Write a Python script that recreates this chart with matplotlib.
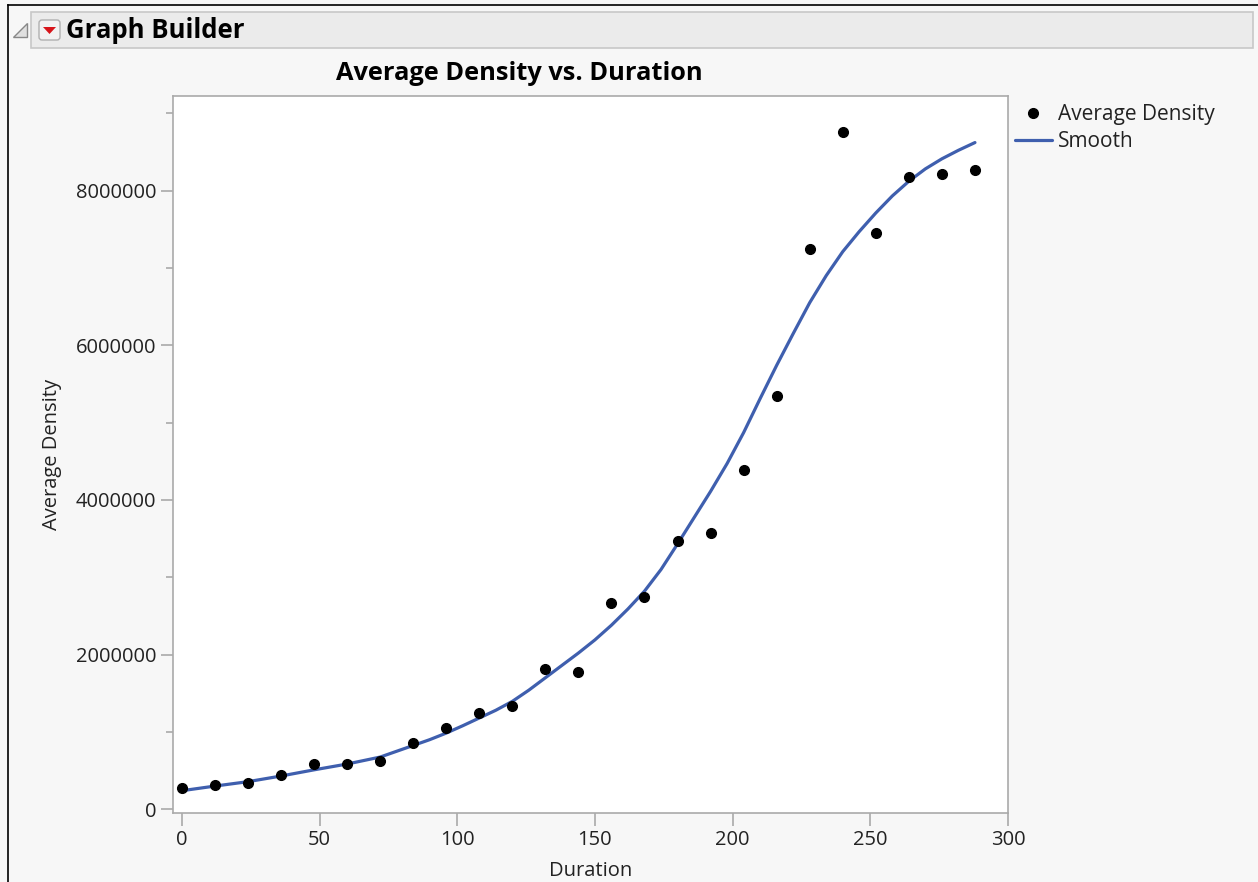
import matplotlib
matplotlib.use("Agg")

import matplotlib.pyplot as plt
from matplotlib.patches import Polygon, FancyBboxPatch, Rectangle

plt.rcParams["font.family"] = ["Open Sans", "DejaVu Sans"]

# observed means, one every 12 units of duration
duration = [0, 12, 24, 36, 48, 60, 72, 84, 96, 108, 120, 132, 144,
            156, 168, 180, 192, 204, 216, 228, 240, 252, 264, 276, 288]
avg_density = [270000, 310000, 335000, 440000, 590000, 590000, 630000,
               860000, 1045000, 1240000, 1340000, 1820000, 1780000,
               2670000, 2750000, 3470000, 3570000, 4390000, 5340000,
               7240000, 8760000, 7450000, 8170000, 8210000, 8270000]

# smoother
smooth_x = [0, 12, 24, 36, 48, 60, 72, 78, 84, 90, 96, 102, 108, 114, 120,
            126, 132, 138, 144, 150, 156, 162, 168, 174, 180, 186, 192, 198,
            204, 210, 216, 222, 228, 234, 240, 246, 252, 258, 264, 270, 276,
            282, 288]
smooth_y = [240000, 300000, 357000, 430000, 510000, 585000, 675000, 750000,
            825000, 900000, 985000, 1080000, 1180000, 1280000, 1395000,
            1540000, 1700000, 1860000, 2020000, 2190000, 2380000, 2590000,
            2820000, 3100000, 3430000, 3770000, 4110000, 4470000, 4870000,
            5310000, 5740000, 6150000, 6550000, 6900000, 7210000, 7470000,
            7710000, 7930000, 8120000, 8280000, 8410000, 8520000, 8620000]

W, H = 1258, 882
BG = "#f7f7f7"
GREY = "#aaaaaa"
TXT = "#222222"
BLUE = "#3f5fae"

fig = plt.figure(figsize=(W / 100, H / 100), dpi=100, facecolor=BG)

# window chrome drawn in pixel coordinates
chrome = fig.add_axes([0, 0, 1, 1], zorder=0)
chrome.set_xlim(0, W); chrome.set_ylim(H, 0); chrome.axis("off")
chrome.plot([8, W], [5, 5], color="black", lw=1.2)
chrome.plot([8, 8], [5, H], color="black", lw=1.2)
chrome.add_patch(Rectangle((31, 12), W - 36, 36, facecolor="#ebebeb",
                           edgecolor="#c8c8c8", lw=1.2))
chrome.add_patch(Polygon([[27, 23], [27, 37], [13, 37]], closed=True,
                         facecolor="#e0e0e0", edgecolor="#888888", lw=1))
chrome.add_patch(FancyBboxPatch((39, 20), 21, 20, boxstyle="round,pad=0,rounding_size=3",
                                facecolor="#f2f2f2", edgecolor="#b0b0b0", lw=1))
chrome.add_patch(Polygon([[43, 27], [56, 27], [49.5, 34]], closed=True,
                         facecolor="#d7141a", edgecolor="none"))
chrome.text(66, 30, "Graph Builder", fontsize=18.5, fontweight="bold",
            color="black", va="center", ha="left")

ax = fig.add_axes([173 / W, 1 - 813 / H, (1008 - 173) / W, (813 - 96) / H], zorder=1)
ax.set_facecolor("white")

ax.plot(smooth_x, smooth_y, color=BLUE, lw=2.3, label="Smooth", zorder=2,
        solid_capstyle="round", solid_joinstyle="round")
ax.plot(duration, avg_density, "o", color="black", ms=7, label="Average Density", zorder=3)

ax.set_xlim(-3.2, 300)
ax.set_ylim(-48000, 9222000)
ax.set_xticks(range(0, 301, 50))
ax.set_yticks(range(0, 8000001, 2000000))
ax.set_yticks(range(1000000, 9000001, 2000000), minor=True)
ax.set_yticklabels([f"{v:d}" for v in range(0, 8000001, 2000000)])

for s in ax.spines.values():
    s.set_color(GREY)
    s.set_linewidth(1.2)
ax.tick_params(axis="both", which="major", length=9, width=1.2, color=GREY,
               labelsize=14.5, labelcolor=TXT, pad=3)
ax.tick_params(axis="y", which="minor", length=5, width=1.2, color=GREY)

ax.set_xlabel("Duration", fontsize=14.5, color=TXT, labelpad=8)
ax.set_ylabel("Average Density", fontsize=14.5, color=TXT, labelpad=10)

fig.text(519 / W, 1 - 74 / H, "Average Density vs. Duration", fontsize=18.3,
         fontweight="bold", color="black", ha="center", va="center")

handles, labels = ax.get_legend_handles_labels()
ax.legend(handles[::-1], labels[::-1], loc="upper left",
          bbox_to_anchor=(1013 / W, 1 - 102 / H), bbox_transform=fig.transFigure,
          frameon=False, fontsize=15, handlelength=1.75, handletextpad=0.3,
          labelspacing=0.3, borderaxespad=0, borderpad=0.1,
          labelcolor=TXT)

fig.savefig("out.png", dpi=100, facecolor=BG)
